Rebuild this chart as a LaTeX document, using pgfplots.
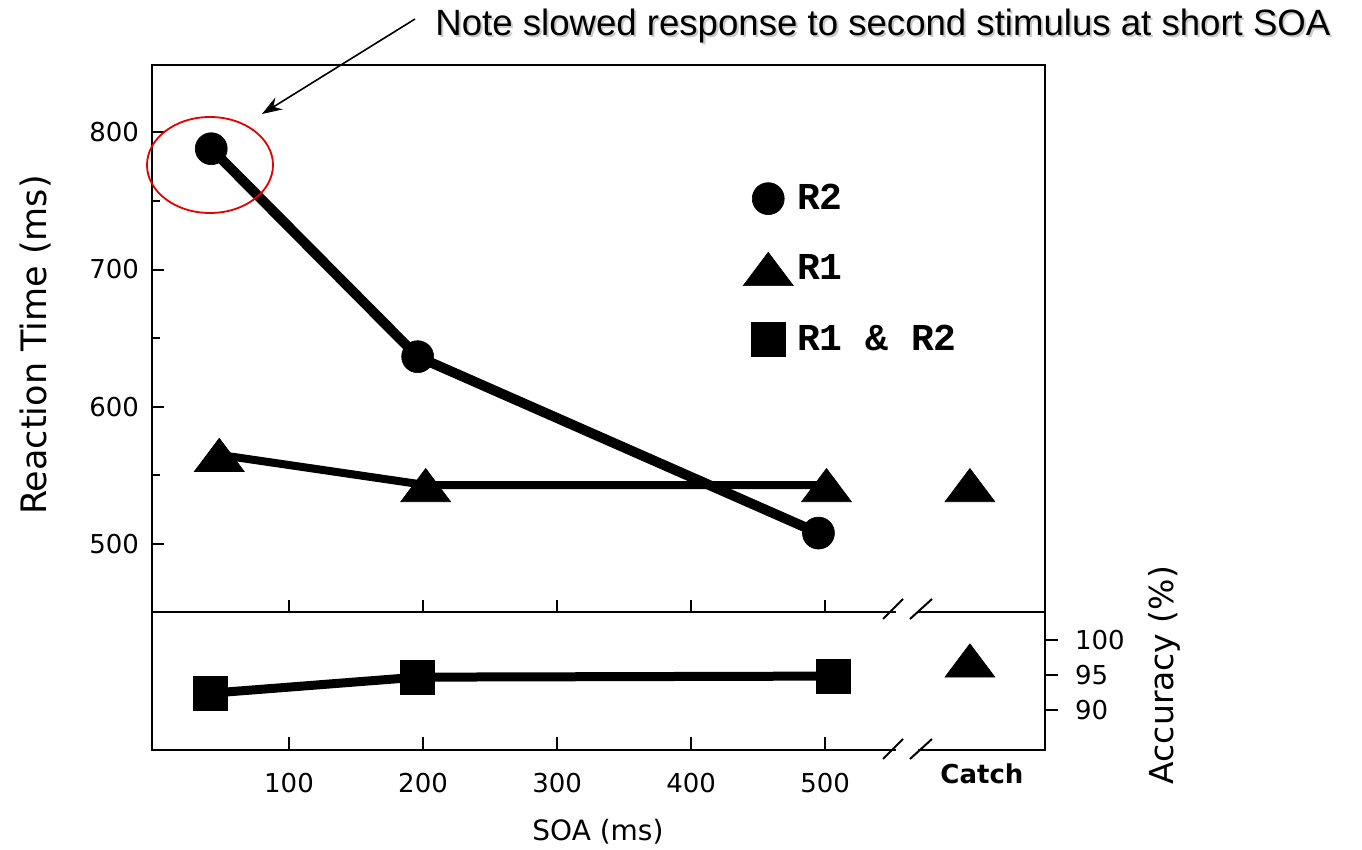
\documentclass[border=0pt]{standalone}
\usepackage{pgfplots}
\pgfplotsset{compat=1.18}
\usepackage{fontspec}
\setmainfont{DejaVu Sans}
\newfontfamily\arialf{Liberation Sans}
\newfontfamily\monof{Liberation Mono}
\usetikzlibrary{arrows.meta}

\pgfplotsset{
  tri/.style={mark=triangle*, mark size=14.4pt, mark options={solid, fill=black, line width=0.3pt, yshift=-2.8pt, yscale=0.77}},
  circ/.style={mark=*, mark size=8pt, mark options={solid, fill=black, line width=0.3pt}},
  sq/.style={mark=square*, mark size=8.5pt, mark options={solid, fill=black, line width=0.3pt}},
}

\begin{document}
\begin{tikzpicture}
\path[use as bounding box] (0,0) rectangle (681pt,-425pt);

\begin{axis}[
  name=top, at={(76pt,-306pt)}, anchor=south west,
  scale only axis, width=446.5pt, height=273.5pt,
  xmin=-2.2, xmax=664, ymin=450.5, ymax=849,
  clip=false,
  axis line style={line width=1.1pt},
  every tick/.style={black, line width=1pt},
  /pgf/number format/assume math mode=true,
  xtick={100,200,300,400,500}, xticklabels={},
  xtick pos=left, ytick pos=left, tick align=inside,
  ytick={500,600,700,800}, minor ytick={550,650,750},
  major tick length=6pt, minor tick length=4pt,
  yticklabel style={font=\fontsize{13}{15}\selectfont, xshift=-3pt},
  ylabel={Reaction Time (ms)},
  ylabel style={at={(axis description cs:-0.131,0.488)}, anchor=center, rotate=0, font=\fontsize{17.5}{19}\selectfont},
  legend style={at={(axis description cs:0.655,0.797)}, anchor=north west, draw=none, fill=none,
    font=\monof\bfseries\fontsize{19}{22}\selectfont, row sep=17pt, nodes={inner sep=2pt}},
  legend cell align=left,
  legend image code/.code={\draw[#1] plot coordinates {(0pt,0pt)};},
]
\addplot[black, line width=5pt, circ, forget plot] coordinates {(42,788) (196,636.5) (495,508)};
\addplot[black, line width=4pt, tri, forget plot] coordinates {(48,565) (202,543) (501,543)};
\addplot[only marks, tri, forget plot] coordinates {(608,543)};
\addlegendimage{only marks, circ}
\addlegendentry{R2}
\addlegendimage{only marks, tri}
\addlegendentry{R1}
\addlegendimage{only marks, sq}
\addlegendentry{R1 \& R2}
\end{axis}

\begin{axis}[
  name=bot, at={(76pt,-375pt)}, anchor=south west,
  scale only axis, width=446.5pt, height=69pt,
  xmin=-2.2, xmax=664, ymin=84.3, ymax=104,
  clip=false,
  axis line style={line width=1.1pt},
  every tick/.style={black, line width=1pt},
  /pgf/number format/assume math mode=true,
  xtick={100,200,300,400,500},
  xtick pos=left, ytick pos=right, yticklabel pos=right,
  xtick align=inside, ytick align=outside,
  ytick={90,95,100},
  major tick length=6.5pt,
  xticklabel style={font=\fontsize{13}{15}\selectfont, yshift=-8pt},
  yticklabel style={font=\fontsize{13}{15}\selectfont, xshift=5pt},
  extra x ticks={608}, extra x tick labels={\bfseries Catch},
  extra x tick style={major tick length=0pt, xticklabel style={xshift=6pt, yshift=4.5pt}},
  xlabel={SOA (ms)},
  xlabel style={at={(axis description cs:0.4994,-0.594)}, anchor=center, font=\fontsize{14}{16}\selectfont},
  ylabel={Accuracy (\%)},
  ylabel style={at={(axis description cs:1.134,0.543)}, anchor=center, rotate=0, font=\fontsize{16.5}{18}\selectfont},
]
\addplot[black, line width=4.5pt, sq] coordinates {(41,92.4) (196,94.7) (506,94.85)};
\addplot[only marks, tri] coordinates {(608,97.1)};
\end{axis}

\begin{scope}[x=0.5pt, y=-0.5pt]
  % axis breaks
  \fill[white] (896,600) rectangle (918,616);
  \fill[white] (896,740) rectangle (918,756);
  \draw[line width=1pt] (883,619) -- (903,599);
  \draw[line width=1pt] (910,619) -- (932,599);
  \draw[line width=1pt] (883,759) -- (903,739);
  \draw[line width=1pt] (910,759) -- (932,739);
  % annotation
  \draw[red!90!black, line width=0.9pt] (210,165) ellipse [x radius=63, y radius=48];
  \draw[line width=0.8pt, -{Stealth[length=10pt, width=7pt]}] (415,19) -- (262,114);
  \node[anchor=base west, inner sep=0pt, text=black!35, opacity=0.6] at (437,38)
    {\arialf\fontsize{18.3}{21}\selectfont Note slowed response to second stimulus at short SOA};
  \node[anchor=base west, inner sep=0pt] at (435,36)
    {\arialf\fontsize{18.3}{21}\selectfont Note slowed response to second stimulus at short SOA};
\end{scope}
\end{tikzpicture}
\end{document}
